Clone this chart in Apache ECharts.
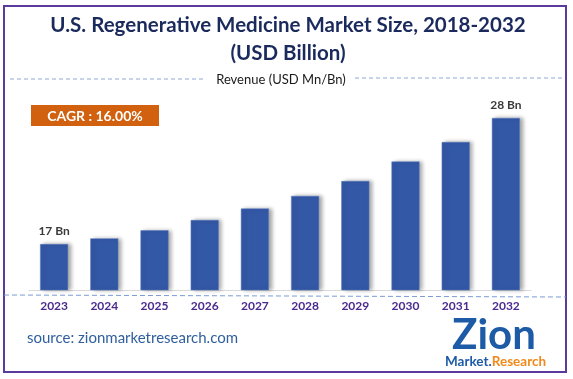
<!DOCTYPE html>
<html><head><meta charset="utf-8">
<script src="https://cdn.jsdelivr.net/npm/echarts@6/dist/echarts.min.js"></script>
<style>html,body{margin:0;padding:0;background:#fff}#c{width:573px;height:379px}</style>
</head><body><div id="c"></div>
<script>
var categories = ['2023','2024','2025','2026','2027','2028','2029','2030','2031','2032'];
var revenue = [17, 17.5, 18.2, 19.1, 20.1, 21.2, 22.5, 24.2, 25.9, 28];
var barLabels = ['17 Bn', '', '', '', '', '', '', '', '', '28 Bn'];
var titleLines = ['U.S. Regenerative Medicine Market Size, 2018-2032', '(USD Billion)'];
var subtitle = 'Revenue (USD Mn/Bn)';
var cagrText = 'CAGR : 16.00%';
var sourceText = 'source: zionmarketresearch.com';

var chart = echarts.init(document.getElementById('c'), null, {renderer: 'canvas'});
var FONT = 'Lato, "Open Sans", sans-serif';
chart.setOption({
  animation: false,
  grid: {left: 29, right: 42, top: 95, bottom: 89, containLabel: false},
  xAxis: {
    type: 'category', data: categories,
    axisLine: {show: true, lineStyle: {color: '#d9d9d9', width: 1}},
    axisTick: {show: false},
    axisLabel: {color: '#4a2a8e', fontWeight: 'bold', fontSize: 12, fontFamily: FONT, margin: 10}
  },
  yAxis: {type: 'value', min: 13, max: 30, show: false, splitLine: {show: false}},
  series: [{
    type: 'bar', data: revenue, barWidth: 28,
    itemStyle: {color: '#3358a6', borderColor: '#5a7cc0', borderWidth: 0.5,
      shadowColor: 'rgba(0,0,0,0.35)', shadowBlur: 4, shadowOffsetX: 3, shadowOffsetY: 0},
    label: {show: true, position: 'top', distance: 7, color: '#3a3a3a', fontWeight: 'bold',
      fontSize: 12, fontFamily: FONT,
      formatter: function (p) { return barLabels[p.dataIndex]; }}
  }],
  graphic: [
    {type: 'rect', shape: {x: 4, y: 6, width: 562, height: 366}, style: {fill: 'none', stroke: '#5b3a9e', lineWidth: 2}, silent: true},
    {type: 'text', x: 288, y: 25, style: {text: titleLines[0], fill: '#1b2a5c', font: 'bold 20.5px ' + FONT, textAlign: 'center', textVerticalAlign: 'middle'}},
    {type: 'text', x: 288, y: 53, style: {text: titleLines[1], fill: '#1b2a5c', font: 'bold 20.5px ' + FONT, textAlign: 'center', textVerticalAlign: 'middle'}},
    {type: 'line', shape: {x1: 10, y1: 79, x2: 203, y2: 79}, style: {stroke: '#8fa9d8', lineWidth: 1, lineDash: [4, 3]}},
    {type: 'line', shape: {x1: 355, y1: 78, x2: 564, y2: 78}, style: {stroke: '#8fa9d8', lineWidth: 1, lineDash: [4, 3]}},
    {type: 'text', x: 281, y: 80, style: {text: subtitle, fill: '#1a1a1a', font: '13px ' + FONT, textAlign: 'center', textVerticalAlign: 'middle'}},
    {type: 'rect', shape: {x: 31, y: 105, width: 128, height: 21}, style: {fill: '#d1600f'}},
    {type: 'text', x: 95, y: 116, style: {text: cagrText, fill: '#ffffff', font: 'bold 14px ' + FONT, textAlign: 'center', textVerticalAlign: 'middle'}},
    {type: 'line', shape: {x1: 4, y1: 295, x2: 566, y2: 297}, style: {stroke: '#7b9bd4', lineWidth: 1, lineDash: [5, 3]}},
    {type: 'text', x: 27, y: 338, style: {text: sourceText, fill: '#2f5f9e', font: '15px ' + FONT, textAlign: 'left', textVerticalAlign: 'middle'}},
    {type: 'text', x: 494, y: 335, style: {text: 'Zion', fill: '#1d5ba6', font: 'bold 42px ' + FONT, textAlign: 'center', textVerticalAlign: 'middle'}},
    {type: 'text', x: 445, y: 362, style: {rich: {a: {fill: '#1d5ba6', font: 'bold 13.5px ' + FONT}, b: {fill: '#f08a1c', font: 'bold 13.5px ' + FONT}}, text: '{a|Market.}{b|Research}', textAlign: 'left', textVerticalAlign: 'middle'}}
  ]
});
</script></body></html>
